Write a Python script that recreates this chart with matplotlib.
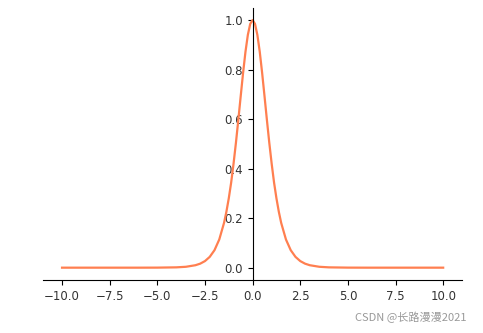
import matplotlib
matplotlib.use("Agg")
import matplotlib.pyplot as plt

# curve samples (symmetric bell around 0)
x_half = [0.0, 0.125, 0.25, 0.375, 0.5, 0.625, 0.75, 0.875, 1.0, 1.125, 1.25,
          1.375, 1.5, 1.75, 2.0, 2.25, 2.5, 2.75, 3.0, 3.5, 4.0, 5.0, 6.0, 8.0, 10.0]
y_half = [1.0, 0.9845, 0.940, 0.8716, 0.7864, 0.6924, 0.5966, 0.5045, 0.420, 0.344, 0.2804,
          0.226, 0.1807, 0.1138, 0.0707, 0.0436, 0.0266, 0.0162, 0.0099, 0.0036, 0.0013,
          0.0002, 0.0, 0.0, 0.0]

x_vals = [-v for v in x_half[:0:-1]] + x_half
y_vals = y_half[:0:-1] + y_half

xticks = [-10.0, -7.5, -5.0, -2.5, 0.0, 2.5, 5.0, 7.5, 10.0]
yticks = [0.0, 0.2, 0.4, 0.6, 0.8, 1.0]

fig = plt.figure(figsize=(4.83, 3.33), dpi=100)
ax = fig.add_axes([0.089, 0.159, 0.868, 0.818])

ax.plot(x_vals, y_vals, color="coral", linewidth=1.6)

ax.spines["top"].set_visible(False)
ax.spines["right"].set_visible(False)
ax.spines["left"].set_position(("data", 0))

ax.set_xticks(xticks)
ax.set_yticks(yticks)
ax.tick_params(labelsize=8.5, labelcolor="#333333")
ax.set_xlim(-11, 11)
ax.set_ylim(-0.05, 1.05)

fig.text(0.965, 0.048, "CSDN @长路漫漫2021", ha="right", va="center", fontsize=8,
         color="#999999", family=["Noto Sans CJK SC", "DejaVu Sans"])

fig.savefig("out.png", dpi=100)
